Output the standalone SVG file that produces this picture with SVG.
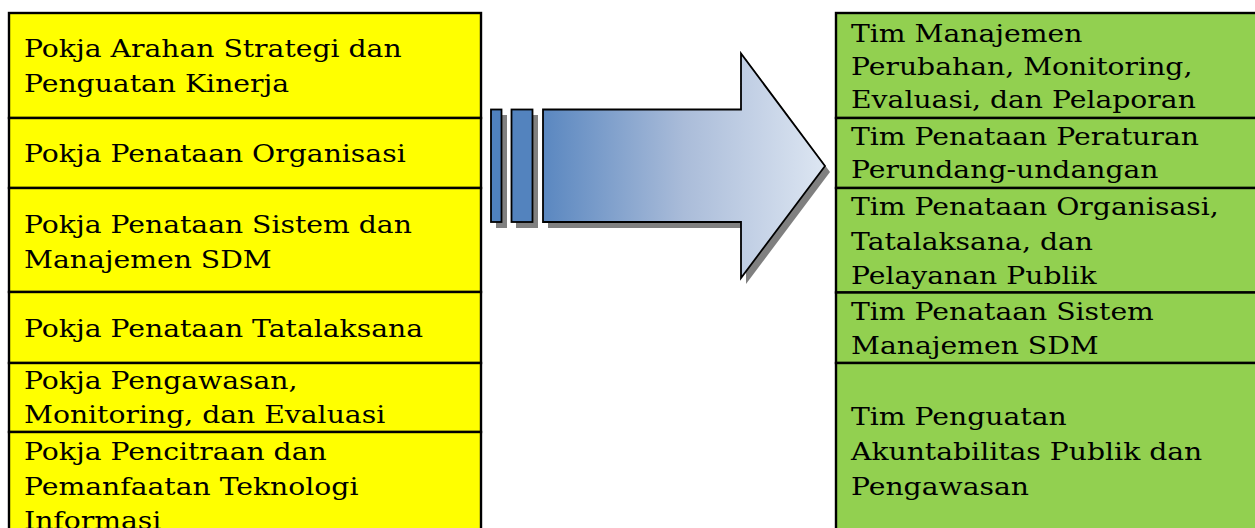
<svg xmlns="http://www.w3.org/2000/svg" width="1255" height="528" viewBox="0 0 1255 528">
  <style>
    .cell { stroke: #000; stroke-width: 2.4; }
    .pokja { fill: #ffff00; }
    .tim { fill: #92d050; }
    .lbl { font-family: "DejaVu Serif", "Liberation Serif", serif; font-size: 25px; fill: #000; }
    .shape { stroke: #000; stroke-width: 1.8; stroke-linejoin: miter; }
    .shadow { fill: #808080; }
  </style>
  <defs>
    <linearGradient id="arrowFill" x1="543" y1="0" x2="825" y2="0" gradientUnits="userSpaceOnUse">
      <stop offset="0" stop-color="#5a87c0"/>
      <stop offset="0.5" stop-color="#aabcd9"/>
      <stop offset="1" stop-color="#dde6f2"/>
    </linearGradient>
  </defs>

  <rect width="1255" height="528" fill="#fff"/>

  <!-- left column: Pokja units (labels widened to the wide book face) -->
  <g id="pokja-arahan">
    <rect class="cell pokja" x="9" y="13" width="472" height="105"/>
    <g transform="translate(24 0) scale(1.13 1)">
      <text class="lbl" x="0" y="57">Pokja Arahan Strategi dan</text>
      <text class="lbl" x="0" y="92">Penguatan Kinerja</text>
    </g>
  </g>
  <g id="pokja-organisasi">
    <rect class="cell pokja" x="9" y="118" width="472" height="70"/>
    <g transform="translate(24 0) scale(1.13 1)">
      <text class="lbl" x="0" y="162">Pokja Penataan Organisasi</text>
    </g>
  </g>
  <g id="pokja-sdm">
    <rect class="cell pokja" x="9" y="188" width="472" height="104"/>
    <g transform="translate(24 0) scale(1.13 1)">
      <text class="lbl" x="0" y="233">Pokja Penataan Sistem dan</text>
      <text class="lbl" x="0" y="268">Manajemen SDM</text>
    </g>
  </g>
  <g id="pokja-tatalaksana">
    <rect class="cell pokja" x="9" y="292" width="472" height="71"/>
    <g transform="translate(24 0) scale(1.13 1)">
      <text class="lbl" x="0" y="337">Pokja Penataan Tatalaksana</text>
    </g>
  </g>
  <g id="pokja-pengawasan">
    <rect class="cell pokja" x="9" y="363" width="472" height="69"/>
    <g transform="translate(24 0) scale(1.13 1)">
      <text class="lbl" x="0" y="389">Pokja Pengawasan,</text>
      <text class="lbl" x="0" y="423">Monitoring, dan Evaluasi</text>
    </g>
  </g>
  <g id="pokja-pencitraan">
    <rect class="cell pokja" x="9" y="432" width="472" height="110"/>
    <g transform="translate(24 0) scale(1.13 1)">
      <text class="lbl" x="0" y="460">Pokja Pencitraan dan</text>
      <text class="lbl" x="0" y="495">Pemanfaatan Teknologi</text>
      <text class="lbl" x="0" y="529">Informasi</text>
    </g>
  </g>

  <!-- transition arrow -->
  <g id="connectors">
    <rect class="shadow" x="496" y="115" width="11" height="113"/>
    <rect class="shadow" x="516" y="115" width="22" height="113"/>
    <path class="shadow" d="M548 115 H746 V59 L830 172 L746 284 V228 H548 Z"/>
    <rect class="shape" x="491" y="109.5" width="10.5" height="112.5" fill="#4f81bd"/>
    <rect class="shape" x="511.5" y="109.5" width="21" height="112.5" fill="#5383be"/>
    <path class="shape" d="M543 109.5 H741 V53.5 L825 166 L741 278 V222 H543 Z" fill="url(#arrowFill)"/>
  </g>

  <!-- right column: Tim units -->
  <g id="tim-manajemen">
    <rect class="cell tim" x="836" y="13" width="440" height="105"/>
    <g transform="translate(851 0) scale(1.13 1)">
      <text class="lbl" x="0" y="42">Tim Manajemen</text>
      <text class="lbl" x="0" y="75">Perubahan, Monitoring,</text>
      <text class="lbl" x="0" y="108">Evaluasi, dan Pelaporan</text>
    </g>
  </g>
  <g id="tim-peraturan">
    <rect class="cell tim" x="836" y="118" width="440" height="70"/>
    <g transform="translate(851 0) scale(1.13 1)">
      <text class="lbl" x="0" y="145">Tim Penataan Peraturan</text>
      <text class="lbl" x="0" y="178">Perundang-undangan</text>
    </g>
  </g>
  <g id="tim-organisasi">
    <rect class="cell tim" x="836" y="188" width="440" height="104.5"/>
    <g transform="translate(851 0) scale(1.13 1)">
      <text class="lbl" x="0" y="215">Tim Penataan Organisasi,</text>
      <text class="lbl" x="0" y="250">Tatalaksana, dan</text>
      <text class="lbl" x="0" y="284">Pelayanan Publik</text>
    </g>
  </g>
  <g id="tim-sdm">
    <rect class="cell tim" x="836" y="292.5" width="440" height="70.5"/>
    <g transform="translate(851 0) scale(1.13 1)">
      <text class="lbl" x="0" y="320">Tim Penataan Sistem</text>
      <text class="lbl" x="0" y="354">Manajemen SDM</text>
    </g>
  </g>
  <g id="tim-akuntabilitas">
    <rect class="cell tim" x="836" y="363" width="440" height="180"/>
    <g transform="translate(851 0) scale(1.13 1)">
      <text class="lbl" x="0" y="425">Tim Penguatan</text>
      <text class="lbl" x="0" y="460">Akuntabilitas Publik dan</text>
      <text class="lbl" x="0" y="495">Pengawasan</text>
    </g>
  </g>
</svg>
